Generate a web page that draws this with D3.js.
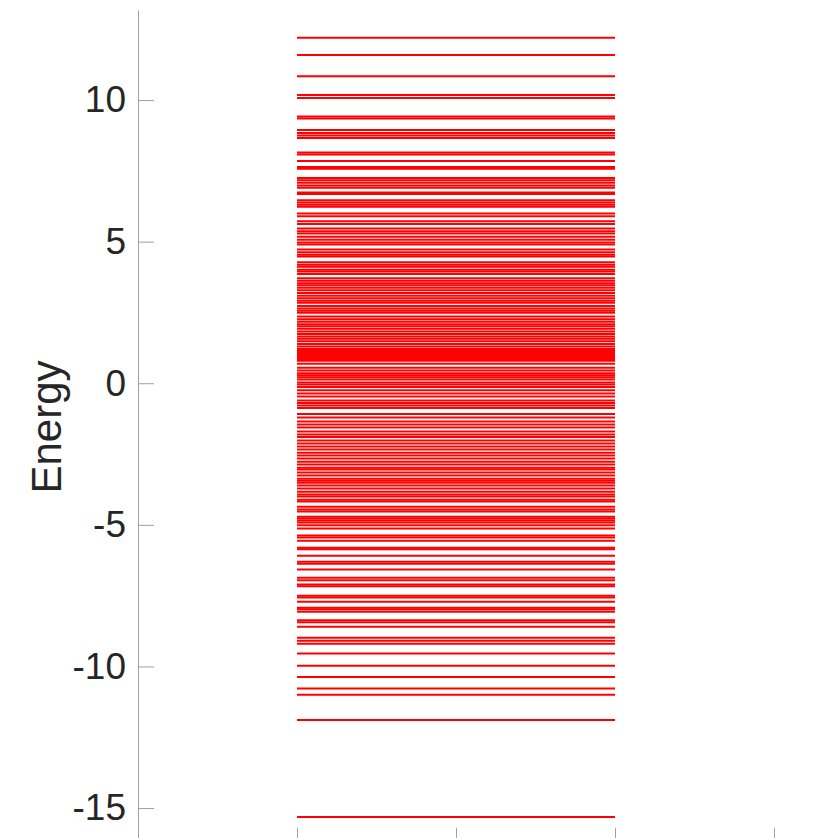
<!DOCTYPE html>
<html>
<head>
<meta charset="utf-8">
<script src="https://cdn.jsdelivr.net/npm/d3@7"></script>
<style>
  html, body { margin: 0; padding: 0; background: #fff; }
  svg { display: block; }
</style>
</head>
<body>
<svg id="chart" width="826" height="838"></svg>
<script>
// Energy levels
const energies = [
  12.20, 11.59, 10.84, 10.18, 10.07, 9.42, 9.35,
  8.94, 8.84, 8.75, 8.66, 8.15, 8.08, 7.85, 7.64, 7.57,
  7.25, 7.17, 7.08, 6.98, 6.90, 6.74, 6.68, 6.46, 6.38, 6.30, 6.23,
  5.99, 5.90, 5.72, 5.62, 5.46, 5.37, 5.29, 5.17, 5.07, 4.97, 4.90,
  4.72, 4.63, 4.54, 4.48, 4.27, 4.18, 4.11, 4.01,
  3.95, 3.86, 3.71, 3.62, 3.53, 3.46, 3.37, 3.28, 3.19, 3.09, 3.00,
  2.91, 2.84, 2.73, 2.64, 2.56, 2.49, 2.36, 2.26, 2.17, 2.08, 2.01,
  1.92, 1.83, 1.74, 1.65, 1.57, 1.48, 1.39, 1.30, 1.21,
  1.14, 1.07, 1.00, 0.93, 0.86, 0.79, 0.69, 0.55, 0.45, 0.35, 0.28,
  0.21, 0.13, 0.03, -0.04, -0.13, -0.25, -0.36, -0.47, -0.61, -0.70,
  -0.79, -0.87, -1.09, -1.21, -1.35, -1.46, -1.56,
  -1.70, -1.81, -1.90, -2.02, -2.13, -2.23, -2.34, -2.45, -2.55, -2.66,
  -2.77, -2.87, -2.98, -3.05, -3.15, -3.26, -3.37, -3.44, -3.51, -3.61,
  -3.72, -3.83, -3.93, -4.00, -4.11, -4.18, -4.36, -4.46,
  -4.53, -4.71, -4.78, -4.85, -4.92, -5.01, -5.13, -5.38, -5.45, -5.56,
  -5.81, -5.86, -6.09, -6.30, -6.37, -6.58, -6.87, -6.96, -7.11, -7.17,
  -7.50, -7.57, -7.72, -7.93, -7.98, -8.07, -8.37, -8.44, -8.60,
  -8.99, -9.09, -9.20, -9.54, -9.98,
  -10.37, -10.78, -11.00, -11.89, -15.32
];
const levelStart = 1;
const levelEnd = 3;
const yTicks = [-15, -10, -5, 0, 5, 10];
const xTicks = [0, 1, 2, 3, 4, 5];
const yLabel = "Energy";

const svg = d3.select("#chart");
const axisColor = "#a0a0a0";
const textColor = "#262626";

const x = d3.scaleLinear().domain([0, 5]).range([138, 933]);
const y = d3.scaleLinear().domain([-16.27, 13.18]).range([844, 10]);

// levels
svg.append("g")
  .selectAll("line")
  .data(energies)
  .join("line")
  .attr("x1", x(levelStart))
  .attr("x2", x(levelEnd))
  .attr("y1", d => y(d))
  .attr("y2", d => y(d))
  .attr("stroke", "#ff0000")
  .attr("stroke-width", 2);

// y axis
const gy = svg.append("g")
  .attr("transform", `translate(${x(0)},0)`)
  .call(d3.axisLeft(y).tickValues(yTicks).tickSizeInner(-16).tickSizeOuter(0).tickPadding(12)
    .tickFormat(d => String(d)));
gy.select(".domain").attr("stroke", axisColor);
gy.selectAll(".tick line").attr("stroke", axisColor);
gy.selectAll(".tick text")
  .attr("fill", textColor)
  .style("font-family", "'Liberation Sans', Arial, sans-serif")
  .style("font-size", "37px");

// x axis (bottom, mostly outside the window)
const gx = svg.append("g")
  .attr("transform", `translate(0,${y(-16.27)})`)
  .call(d3.axisBottom(x).tickValues(xTicks).tickSizeInner(-16).tickSizeOuter(0).tickFormat(""));
gx.select(".domain").attr("stroke", axisColor);
gx.selectAll(".tick line").attr("stroke", axisColor);

// y label
svg.append("text")
  .attr("transform", `translate(61,${(y.range()[0] + y.range()[1]) / 2}) rotate(-90)`)
  .attr("text-anchor", "middle")
  .attr("fill", textColor)
  .style("font-family", "'Liberation Sans', Arial, sans-serif")
  .style("font-size", "42px")
  .text(yLabel);
</script>
</body>
</html>
